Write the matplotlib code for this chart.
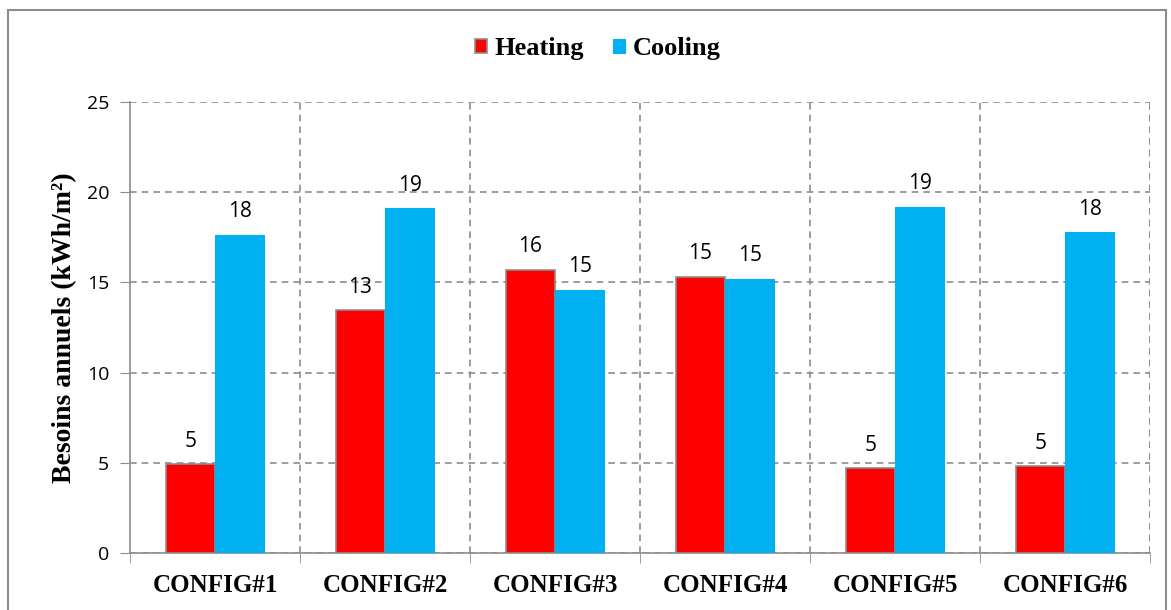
import numpy as np
import matplotlib.pyplot as plt
from matplotlib.patches import Rectangle

configs = ["CONFIG#1", "CONFIG#2", "CONFIG#3", "CONFIG#4", "CONFIG#5", "CONFIG#6"]
heating = [4.93, 13.47, 15.69, 15.3, 4.71, 4.82]
cooling = [17.63, 19.12, 14.58, 15.19, 19.18, 17.79]

red = "#ff0000"
blue = "#00b0f0"
grid_col = "#8c8c8c"

fig = plt.figure(figsize=(11.71, 6.10), dpi=100)
ax = fig.add_axes([130 / 1171, 57 / 610, 1020 / 1171, 451 / 610])

x = np.arange(len(configs))
w = 0.29
b1 = ax.bar(x - w / 2, heating, w, color=red, edgecolor="#8c8c8c", linewidth=1.2,
            label="Heating", zorder=3)
b2 = ax.bar(x + w / 2, cooling, w, color=blue, edgecolor=blue, linewidth=0.8,
            label="Cooling", zorder=3)

for bars, vals in ((b1, heating), (b2, cooling)):
    for r, v in zip(bars, vals):
        ax.annotate(f"{v:.0f}", (r.get_x() + r.get_width() / 2, v),
                    xytext=(0, 9), textcoords="offset points",
                    ha="center", va="bottom", fontsize=15, family="Open Sans", zorder=4)

ax.set_xlim(-0.5, len(configs) - 0.5)
ax.set_ylim(0, 25)
ax.set_yticks(range(0, 26, 5))
ax.tick_params(axis="y", labelsize=14, length=7, color=grid_col, pad=8)
for t in ax.get_yticklabels():
    t.set_family("Open Sans")

# categories labelled at centres, ticks at boundaries
ax.set_xticks(x)
ax.set_xticklabels(configs, fontsize=18, fontweight="bold", family="Liberation Serif")
ax.tick_params(axis="x", length=0, pad=15)
ax.set_xticks(np.arange(-0.5, len(configs)), minor=True)
ax.tick_params(axis="x", which="minor", length=7, color=grid_col)

ax.grid(axis="y", linestyle=(0, (4, 3)), color=grid_col, linewidth=1.2, zorder=0)
for xb in np.arange(0.5, len(configs)):
    ax.axvline(xb, linestyle=(0, (4, 3)), color=grid_col, linewidth=1.2, zorder=0)
ax.axvline(len(configs) - 0.5, linestyle=(0, (4, 3)), color=grid_col, linewidth=1.2, zorder=0)

for s in ["top", "right"]:
    ax.spines[s].set_visible(False)
for s in ["left", "bottom"]:
    ax.spines[s].set_color(grid_col)
    ax.spines[s].set_linewidth(1.2)

ax.set_ylabel("Besoins annuels (kWh/m²)", fontsize=20, fontweight="bold",
              family="Liberation Serif", labelpad=7)

fig.legend(handles=[b1, b2], loc="center", bbox_to_anchor=(598 / 1171, 1 - 49 / 610),
           ncol=2, frameon=False, handlelength=0.45, handleheight=0.45, handletextpad=0.3,
           columnspacing=1.1, prop={"family": "Liberation Serif", "weight": "bold", "size": 19})

fig.patches.append(Rectangle((8 / 1171, -0.05), 1158 / 1171, 1.05 - 10 / 610,
                             transform=fig.transFigure, fill=False,
                             edgecolor="#8c8c8c", linewidth=1.5))

fig.savefig("out.png", dpi=100)
